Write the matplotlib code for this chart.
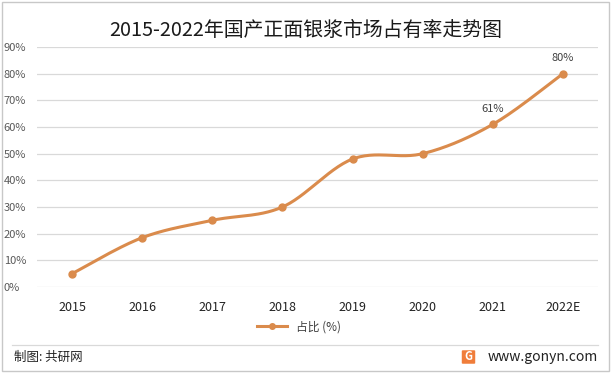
import matplotlib.pyplot as plt
import numpy as np
from matplotlib.patches import Rectangle, FancyBboxPatch
from matplotlib.lines import Line2D

plt.rcParams['font.family'] = ['Noto Sans CJK SC', 'DejaVu Sans']

years = ["2015", "2016", "2017", "2018", "2019", "2020", "2021", "2022E"]
share = [5, 18.5, 25, 30, 48, 50, 61, 80]
labelled = {"2021": "61%", "2022E": "80%"}
color = "#DA8B4C"


def smooth(xs, ys, n=30):
    # Catmull-Rom style curve through the points, like Excel's smoothed line
    xs = np.asarray(xs, float)
    ys = np.asarray(ys, float)
    px = np.concatenate([[xs[0]], xs, [xs[-1]]])
    py = np.concatenate([[ys[0]], ys, [ys[-1]]])
    outx, outy = [], []
    t = np.linspace(0, 1, n)
    for i in range(1, len(px) - 2):
        p0, p1, p2, p3 = [np.array([px[j], py[j]]) for j in (i - 1, i, i + 1, i + 2)]
        c1 = p1 + (p2 - p0) / 6
        c2 = p2 - (p3 - p1) / 6
        b = ((1 - t) ** 3)[:, None] * p1 + (3 * (1 - t) ** 2 * t)[:, None] * c1 \
            + (3 * (1 - t) * t ** 2)[:, None] * c2 + (t ** 3)[:, None] * p2
        outx.extend(b[:, 0])
        outy.extend(b[:, 1])
    return outx, outy


fig = plt.figure(figsize=(6.11, 3.73), dpi=100)
ax = fig.add_axes([37 / 611, 86 / 373, 561 / 611, 240 / 373])

x = np.arange(len(years))
sx, sy = smooth(x, share)
ax.plot(sx, sy, color=color, lw=2.2, solid_capstyle="round", zorder=3)
ax.plot(x, share, "o", color=color, ms=5, zorder=4)

for i, y in enumerate(years):
    if y in labelled:
        ax.text(i, share[i] + 4, labelled[y], ha="center", va="bottom",
                fontsize=8, color="#404040")

ax.set_xlim(-0.5, len(years) - 0.5)
ax.set_ylim(0, 90)
ax.set_yticks(range(0, 91, 10))
ax.set_yticklabels([f"{v}%" for v in range(0, 91, 10)], fontsize=8,
                   color="#595959", ha="left")
ax.set_xticks(x)
ax.set_xticklabels(years, fontsize=9, color="#222222")
ax.tick_params(axis="both", length=0)
ax.tick_params(axis="y", pad=24)
ax.tick_params(axis="x", pad=10)
ax.grid(axis="y", color="#D9D9D9", lw=0.9)
ax.set_axisbelow(True)
for s in ax.spines.values():
    s.set_visible(False)

fig.text(0.5, 1 - 30 / 373, "2015-2022年国产正面银浆市场占有率走势图",
         ha="center", va="center", fontsize=14.3, color="#1a1a1a")

handle = Line2D([], [], color=color, lw=2.2, marker="o", ms=4)
fig.legend([handle], ["占比 (%)"], loc="center", bbox_to_anchor=(0.49, 1 - 327 / 373),
           frameon=False, fontsize=8.5, handlelength=2.5, labelcolor="#404040")

fig.add_artist(Line2D([12 / 611, 598 / 611], [1 - 345 / 373] * 2, color="#D9D9D9", lw=0.9))
fig.add_artist(Rectangle((2 / 611, 2 / 373), 607 / 611, 369 / 373, fill=False,
                         ec="#C8C8C8", lw=1, transform=fig.transFigure))

fig.text(14 / 611, 1 - 357 / 373, "制图: 共研网", ha="left", va="center",
         fontsize=9, color="#222222")
fig.text(598 / 611, 1 - 357 / 373, "www.gonyn.com", ha="right", va="center",
         fontsize=10, color="#222222")
fig.add_artist(FancyBboxPatch((463 / 611, 1 - 363 / 373), 11 / 611, 12 / 373,
                              boxstyle="round,pad=0.002", fc="#F07D3A", ec="none",
                              transform=fig.transFigure))
fig.text(468.5 / 611, 1 - 357 / 373, "G", ha="center", va="center",
         fontsize=8, color="white", fontweight="bold")

fig.savefig("out.png", dpi=100)
